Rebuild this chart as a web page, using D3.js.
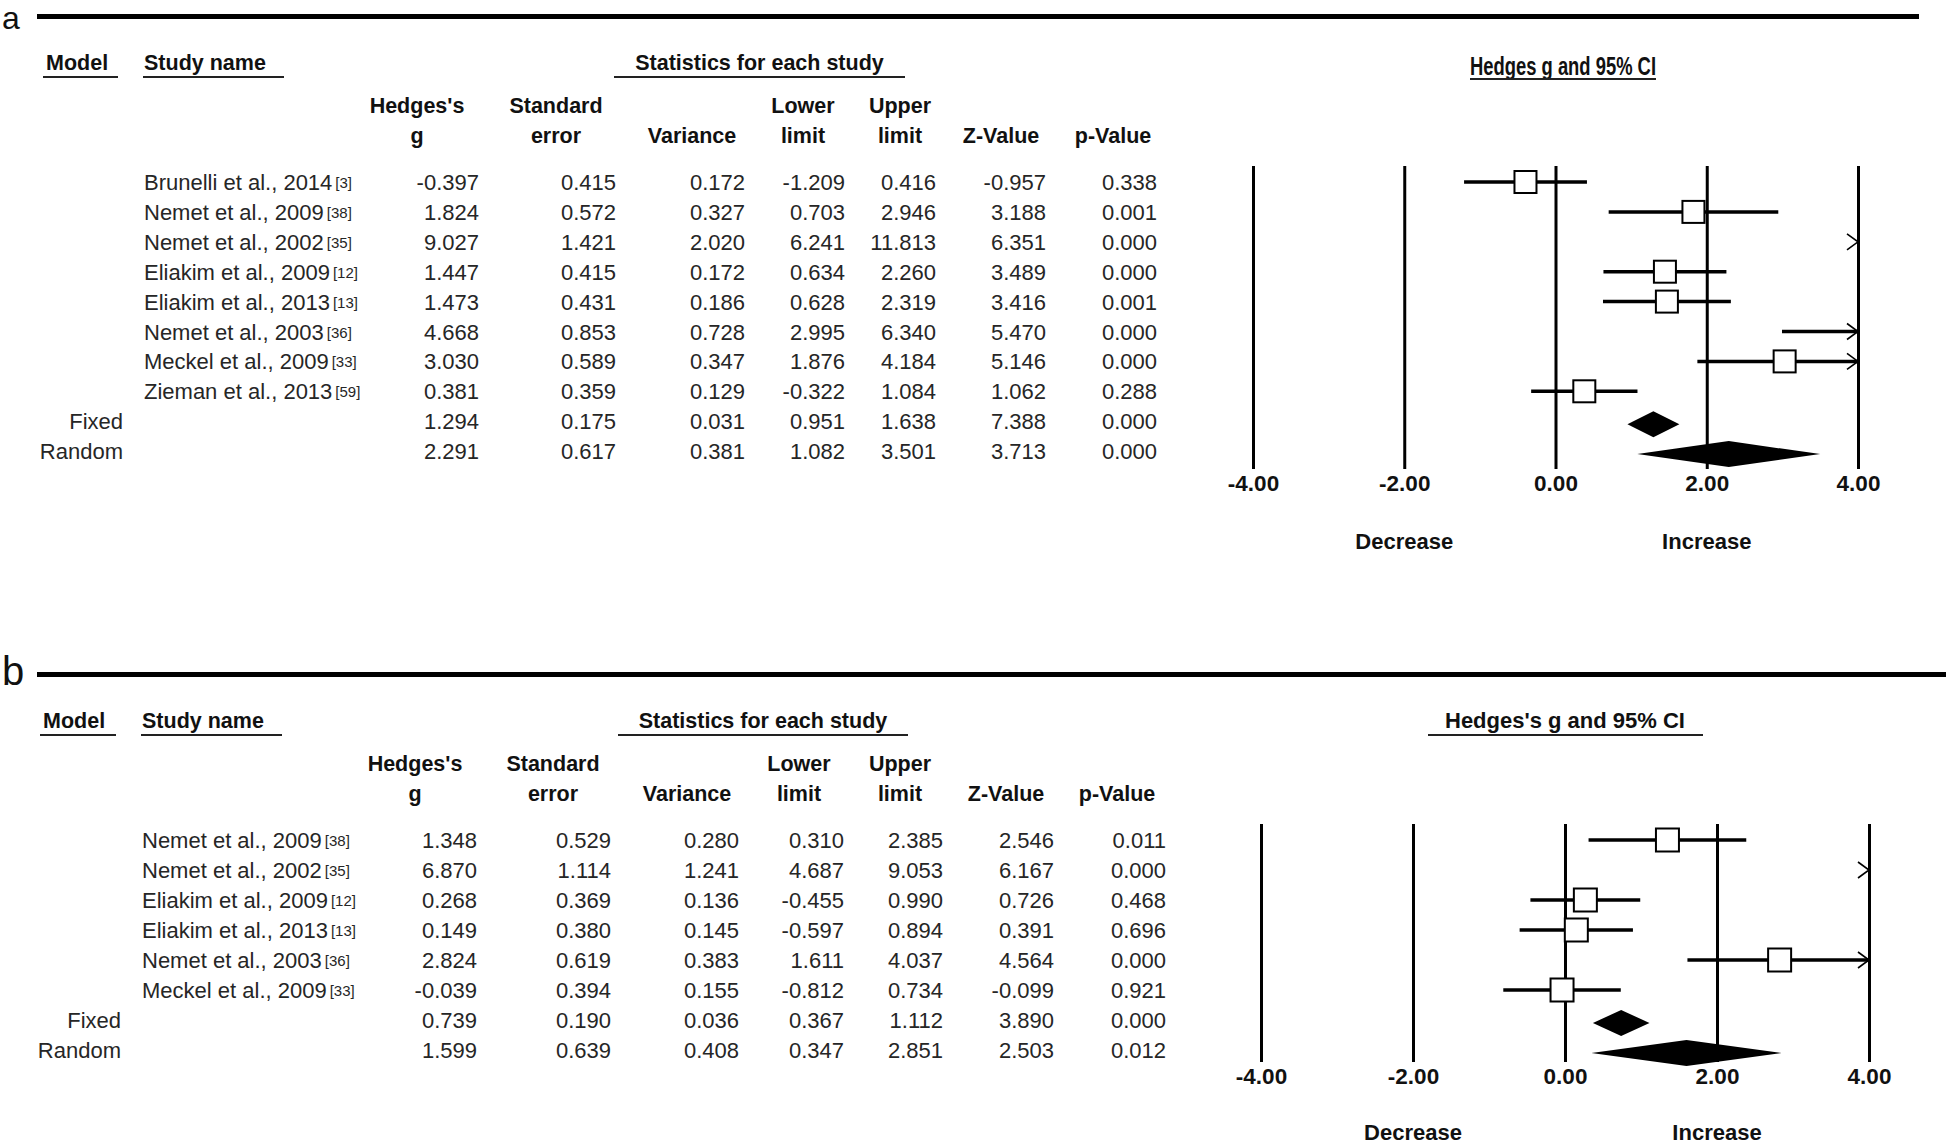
<!DOCTYPE html>
<html><head><meta charset="utf-8">
<script src="https://cdn.jsdelivr.net/npm/d3@7"></script>
<style>body{margin:0;background:#fff}svg{display:block}</style>
</head><body>
<script>
// ---------- DATA : panel a ----------
const aStudies = ["Brunelli et al., 2014","Nemet et al., 2009","Nemet et al., 2002","Eliakim et al., 2009","Eliakim et al., 2013","Nemet et al., 2003","Meckel et al., 2009","Zieman et al., 2013"];
const aRefs = ["[3]","[38]","[35]","[12]","[13]","[36]","[33]","[59]"];
const aModels = ["Fixed","Random"];
const aG   = [-0.397,1.824,9.027,1.447,1.473,4.668,3.030,0.381,1.294,2.291];
const aSE  = [0.415,0.572,1.421,0.415,0.431,0.853,0.589,0.359,0.175,0.617];
const aVar = [0.172,0.327,2.020,0.172,0.186,0.728,0.347,0.129,0.031,0.381];
const aLo  = [-1.209,0.703,6.241,0.634,0.628,2.995,1.876,-0.322,0.951,1.082];
const aHi  = [0.416,2.946,11.813,2.260,2.319,6.340,4.184,1.084,1.638,3.501];
const aZ   = [-0.957,3.188,6.351,3.489,3.416,5.470,5.146,1.062,7.388,3.713];
const aP   = [0.338,0.001,0.000,0.000,0.001,0.000,0.000,0.288,0.000,0.000];

// ---------- DATA : panel b ----------
const bStudies = ["Nemet et al., 2009","Nemet et al., 2002","Eliakim et al., 2009","Eliakim et al., 2013","Nemet et al., 2003","Meckel et al., 2009"];
const bRefs = ["[38]","[35]","[12]","[13]","[36]","[33]"];
const bModels = ["Fixed","Random"];
const bG   = [1.348,6.870,0.268,0.149,2.824,-0.039,0.739,1.599];
const bSE  = [0.529,1.114,0.369,0.380,0.619,0.394,0.190,0.639];
const bVar = [0.280,1.241,0.136,0.145,0.383,0.155,0.036,0.408];
const bLo  = [0.310,4.687,-0.455,-0.597,1.611,-0.812,0.367,0.347];
const bHi  = [2.385,9.053,0.990,0.894,4.037,0.734,1.112,2.851];
const bZ   = [2.546,6.167,0.726,0.391,4.564,-0.099,3.890,2.503];
const bP   = [0.011,0.000,0.468,0.696,0.000,0.921,0.000,0.012];

const axisTicks = [-4,-2,0,2,4];
const colHeaders = [["Hedges's","g"],["Standard","error"],["","Variance"],["Lower","limit"],["Upper","limit"],["","Z-Value"],["","p-Value"]];

const FONT = "'Liberation Sans', Arial, Helvetica, sans-serif";
const svg = d3.select("body").append("svg").attr("width",1946).attr("height",1146)
  .attr("font-family",FONT);

function drawPanel(o){
  const g = svg.append("g");
  // panel letter + thick rule
  g.append("text").attr("x",2).attr("y",o.letterY).attr("font-size",o.letterSize).attr("fill","#111").text(o.letter);
  g.append("line").attr("x1",37).attr("x2",o.ruleX2).attr("y1",o.ruleY).attr("y2",o.ruleY)
    .attr("stroke","#000").attr("stroke-width",5);

  // group headers with underlines
  const hb = o.hdrBase;
  const bold = (x,y,t,anchor)=>g.append("text").attr("x",x).attr("y",y).attr("font-size",21.5)
      .attr("font-weight","bold").attr("fill","#111").attr("text-anchor",anchor||"start").text(t);
  bold(o.modelX[0]+3,hb,"Model");
  bold(o.studyX[0]+1,hb,"Study name");
  bold((o.statX[0]+o.statX[1])/2,hb,"Statistics for each study","middle");
  [o.modelX,o.studyX,o.statX].forEach(r=>g.append("line").attr("x1",r[0]).attr("x2",r[1])
      .attr("y1",hb+7).attr("y2",hb+7).attr("stroke","#222").attr("stroke-width",2.2));

  // column headers
  colHeaders.forEach((h,i)=>{
    if(h[0]) bold(o.hdrCx[i],hb+43,h[0],"middle");
    bold(o.hdrCx[i],hb+73,h[1],"middle");
  });

  // rows
  const n = o.studies.length + o.models.length;
  const yRow = d3.scaleLinear().domain([0,n-1]).range([o.row0,o.row0+(n-1)*o.rowStep]);
  const rows = d3.range(n).map(i=>({
    i, study: i<o.studies.length ? o.studies[i] : null, ref: i<o.studies.length ? o.refs[i] : null,
    model: i>=o.studies.length ? o.models[i-o.studies.length] : null,
    vals:[o.G[i],o.SE[i],o.V[i],o.Lo[i],o.Hi[i],o.Z[i],o.P[i]], g:o.G[i], lo:o.Lo[i], hi:o.Hi[i]
  }));
  rows.forEach(r=>{
    const y = yRow(r.i);
    if(r.study){
      const t = g.append("text").attr("x",o.studyX[0]+1).attr("y",y).attr("font-size",22).attr("fill","#262626");
      t.append("tspan").text(r.study);
      t.append("tspan").attr("dx",3).attr("dy",-2).attr("font-size",15).text(r.ref);
    } else {
      g.append("text").attr("x",o.modelRight).attr("y",y).attr("font-size",22).attr("fill","#262626")
        .attr("text-anchor","end").text(r.model);
    }
    r.vals.forEach((v,k)=>{
      g.append("text").attr("x",o.colRight[k]).attr("y",y).attr("font-size",22).attr("fill","#262626")
        .attr("text-anchor","end").text(v.toFixed(3));
    });
  });

  // forest plot
  const x = d3.scaleLinear().domain([-4,4]).range(o.xRange);
  const axis = d3.axisBottom(x).tickValues(axisTicks).tickFormat(d=>d.toFixed(2))
    .tickSizeInner(-(o.gridBot-o.gridTop)).tickSizeOuter(0).tickPadding(o.tickPad);
  const ax = g.append("g").attr("transform",`translate(0,${o.gridBot})`).call(axis);
  ax.select(".domain").remove();
  ax.selectAll(".tick line").attr("stroke","#000").attr("stroke-width",3);
  ax.selectAll(".tick text").attr("font-size",22.5).attr("font-weight","bold").attr("fill","#111")
    .attr("font-family",FONT);

  // plot title
  const tt = g.append("text").attr("x",o.titleCx).attr("y",o.titleY).attr("font-size",o.titleSize)
    .attr("font-weight","bold").attr("fill","#111").attr("text-anchor","middle").text(o.title);
  if(o.titleLen) tt.attr("textLength",o.titleLen).attr("lengthAdjust","spacingAndGlyphs");
  g.append("line").attr("x1",o.titleLine[0]).attr("x2",o.titleLine[1]).attr("y1",o.titleLineY).attr("y2",o.titleLineY)
    .attr("stroke","#222").attr("stroke-width",2.2);

  // Decrease / Increase
  [["Decrease",-2],["Increase",2]].forEach(d=>g.append("text").attr("x",x(d[1])).attr("y",o.decY)
     .attr("font-size",22).attr("font-weight","bold").attr("fill","#111").attr("text-anchor","middle").text(d[0]));

  const [dmin,dmax] = x.domain();
  const chevron = (xx,yy)=>g.append("path").attr("d",`M${xx-11},${yy-8}L${xx},${yy}L${xx-11},${yy+8}`)
      .attr("fill","none").attr("stroke","#000").attr("stroke-width",1.6);
  rows.forEach(r=>{
    const yc = yRow(r.i) - 8;
    if(r.study){
      if(r.lo < dmax){
        g.append("line").attr("x1",x(Math.max(r.lo,dmin))).attr("x2",x(Math.min(r.hi,dmax)))
          .attr("y1",yc).attr("y2",yc).attr("stroke","#000").attr("stroke-width",3.5);
      }
      if(r.hi > dmax) chevron(x(dmax),yc);
      if(r.g>=dmin && r.g<=dmax){
        const s = o.sq;
        g.append("rect").attr("x",x(r.g)-s/2).attr("y",yc-s/2).attr("width",s).attr("height",s)
          .attr("fill","#fff").attr("stroke","#000").attr("stroke-width",2);
      }
    } else {
      const yd = yc + 3, h = 13;
      g.append("path").attr("d",`M${x(r.lo)},${yd}L${x(r.g)},${yd-h}L${x(r.hi)},${yd}L${x(r.g)},${yd+h}Z`)
        .attr("fill","#000");
    }
  });
}

drawPanel({
  letter:"a", letterSize:32, letterY:29, ruleY:16.5, ruleX2:1919, hdrBase:70,
  modelX:[43,118], studyX:[143,284], statX:[614,905],
  hdrCx:[417,556,692,803,900,1001,1113],
  studies:aStudies, refs:aRefs, models:aModels, G:aG, SE:aSE, V:aVar, Lo:aLo, Hi:aHi, Z:aZ, P:aP,
  row0:190, rowStep:29.9, modelRight:123,
  colRight:[479,616,745,845,936,1046,1157],
  xRange:[1253,1858], gridTop:166, gridBot:469, tickPad:6, decY:549,
  title:"Hedges g and 95% CI", titleY:75, titleCx:1563, titleSize:25, titleLen:186,
  titleLine:[1470,1656], titleLineY:79, sq:22
});

drawPanel({
  letter:"b", letterSize:40, letterY:684.5, ruleY:674.5, ruleX2:1946, hdrBase:728,
  modelX:[40,116], studyX:[141,282], statX:[618,908],
  hdrCx:[415,553,687,799,900,1006,1117],
  studies:bStudies, refs:bRefs, models:bModels, G:bG, SE:bSE, V:bVar, Lo:bLo, Hi:bHi, Z:bZ, P:bP,
  row0:848, rowStep:30, modelRight:121,
  colRight:[477,611,739,844,943,1054,1166],
  xRange:[1261,1869], gridTop:824, gridBot:1062, tickPad:6, decY:1140,
  title:"Hedges's g and 95% CI", titleY:728, titleCx:1565, titleSize:22, titleLen:null,
  titleLine:[1428,1703], titleLineY:735, sq:23
});
</script>
</body></html>
